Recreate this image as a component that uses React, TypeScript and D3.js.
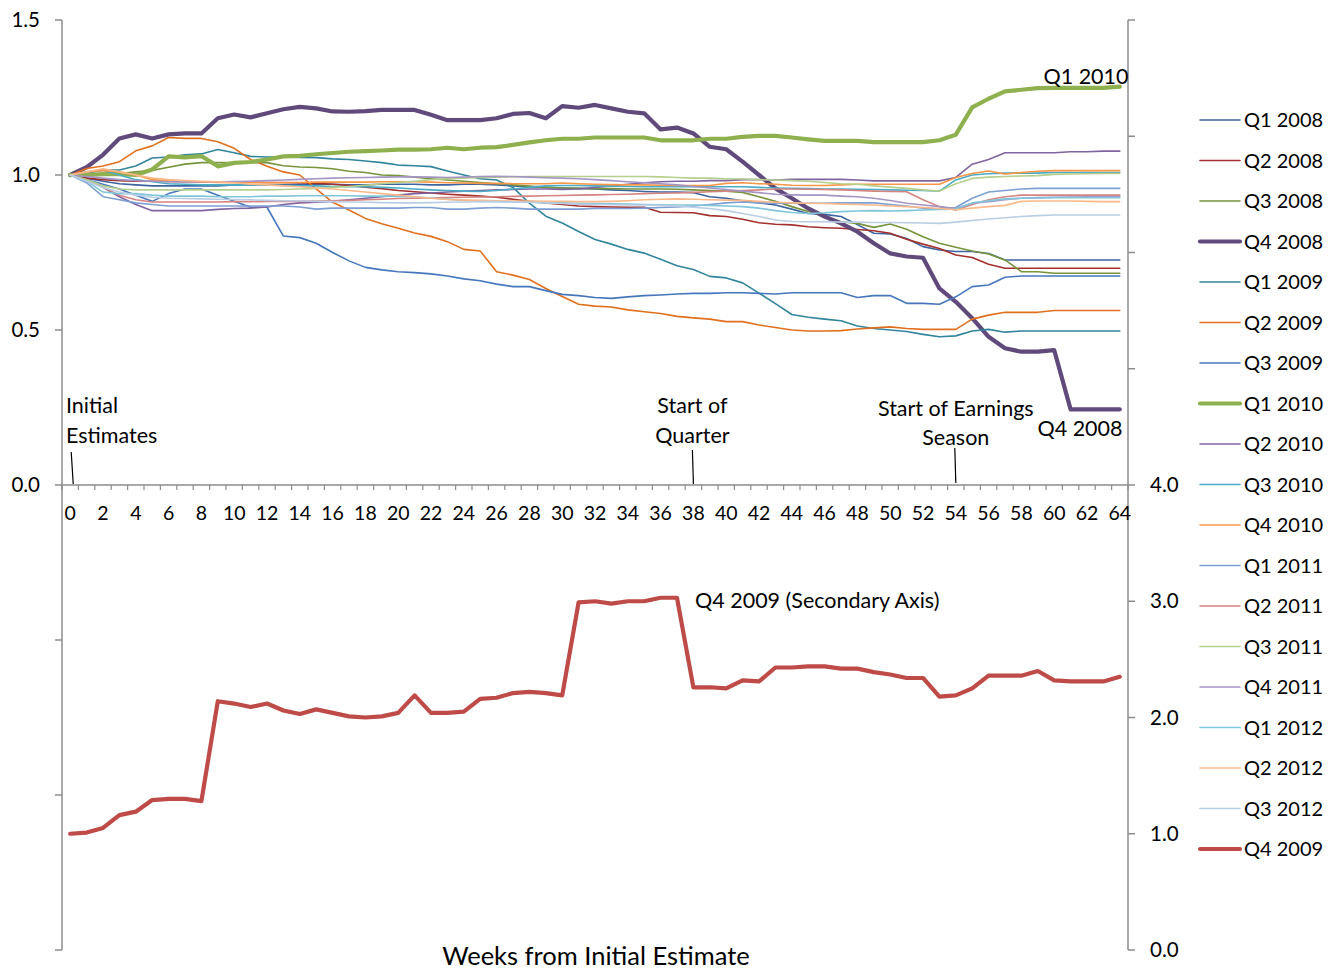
import React from "react";
import * as d3 from "d3";

// Weeks elapsed since the first consensus estimate (category axis)
const weeks: number[] = d3.range(0, 65);
const xTickLabels: number[] = d3.range(0, 65, 2);
const leftTicks: number[] = [-1.5, -1.0, -0.5, 0, 0.5, 1.0, 1.5];
const rightTicks: number[] = [0, 1, 2, 3, 4, 5, 6, 7, 8];

// Estimate relative to the initial estimate, primary axis
const q1_2008 = [1.000, 0.990, 0.980, 0.972, 0.968, 0.965, 0.965, 0.965, 0.965, 0.965,
  0.968, 0.968, 0.968, 0.968, 0.970, 0.970, 0.970, 0.968, 0.968, 0.970,
  0.970, 0.970, 0.968, 0.968, 0.970, 0.970, 0.968, 0.965, 0.962, 0.960,
  0.958, 0.957, 0.955, 0.952, 0.950, 0.947, 0.945, 0.945, 0.943, 0.930,
  0.925, 0.917, 0.910, 0.903, 0.890, 0.876, 0.873, 0.866, 0.840, 0.812,
  0.810, 0.795, 0.769, 0.758, 0.753, 0.753, 0.747, 0.726, 0.726, 0.726,
  0.726, 0.726, 0.726, 0.726, 0.726];
const q2_2008 = [1.000, 0.990, 0.985, 0.982, 0.980, 0.980, 0.979, 0.978, 0.978, 0.978,
  0.977, 0.977, 0.976, 0.976, 0.975, 0.973, 0.970, 0.966, 0.961, 0.956,
  0.950, 0.946, 0.942, 0.938, 0.935, 0.932, 0.928, 0.922, 0.915, 0.910,
  0.905, 0.900, 0.898, 0.897, 0.896, 0.896, 0.880, 0.879, 0.878, 0.869,
  0.866, 0.857, 0.846, 0.841, 0.839, 0.833, 0.830, 0.828, 0.824, 0.820,
  0.812, 0.793, 0.777, 0.763, 0.742, 0.734, 0.712, 0.699, 0.699, 0.699,
  0.699, 0.699, 0.699, 0.699, 0.699];
const q3_2008 = [1.000, 1.000, 1.000, 1.005, 1.010, 1.015, 1.025, 1.035, 1.040, 1.040,
  1.040, 1.040, 1.040, 1.030, 1.026, 1.024, 1.020, 1.012, 1.008, 1.000,
  0.998, 0.993, 0.988, 0.984, 0.980, 0.976, 0.972, 0.968, 0.964, 0.960,
  0.958, 0.957, 0.956, 0.956, 0.955, 0.955, 0.955, 0.954, 0.952, 0.950,
  0.948, 0.944, 0.930, 0.915, 0.898, 0.882, 0.868, 0.849, 0.844, 0.831,
  0.842, 0.825, 0.801, 0.780, 0.767, 0.755, 0.745, 0.726, 0.688, 0.688,
  0.683, 0.683, 0.683, 0.683, 0.683];
const q4_2008 = [1.000, 1.025, 1.065, 1.118, 1.131, 1.118, 1.131, 1.134, 1.134, 1.183,
  1.195, 1.186, 1.199, 1.212, 1.220, 1.215, 1.205, 1.204, 1.206, 1.210,
  1.210, 1.210, 1.194, 1.177, 1.177, 1.177, 1.183, 1.197, 1.200, 1.183,
  1.222, 1.217, 1.226, 1.215, 1.204, 1.199, 1.147, 1.153, 1.134, 1.091,
  1.083, 1.043, 1.000, 0.957, 0.925, 0.892, 0.866, 0.844, 0.817, 0.780,
  0.747, 0.737, 0.733, 0.634, 0.591, 0.538, 0.478, 0.441, 0.430, 0.430,
  0.435, 0.244, 0.244, 0.244, 0.244];
const q1_2009 = [1.000, 1.005, 1.016, 1.016, 1.029, 1.055, 1.058, 1.065, 1.068, 1.082,
  1.072, 1.060, 1.058, 1.058, 1.057, 1.056, 1.052, 1.050, 1.045, 1.040,
  1.032, 1.030, 1.027, 1.013, 1.000, 0.988, 0.984, 0.960, 0.909, 0.867,
  0.845, 0.818, 0.792, 0.777, 0.760, 0.748, 0.728, 0.707, 0.695, 0.673,
  0.668, 0.652, 0.619, 0.585, 0.550, 0.541, 0.535, 0.530, 0.513, 0.505,
  0.500, 0.495, 0.486, 0.478, 0.481, 0.497, 0.502, 0.493, 0.497, 0.497,
  0.497, 0.497, 0.497, 0.497, 0.497];
const q2_2009 = [1.000, 1.021, 1.029, 1.043, 1.078, 1.094, 1.121, 1.118, 1.118, 1.107,
  1.086, 1.050, 1.028, 1.010, 1.000, 0.955, 0.912, 0.887, 0.860, 0.843,
  0.828, 0.813, 0.802, 0.785, 0.760, 0.755, 0.688, 0.677, 0.663, 0.634,
  0.608, 0.583, 0.577, 0.574, 0.565, 0.559, 0.553, 0.544, 0.539, 0.535,
  0.527, 0.527, 0.516, 0.508, 0.500, 0.497, 0.497, 0.498, 0.503, 0.507,
  0.510, 0.505, 0.502, 0.502, 0.502, 0.535, 0.548, 0.557, 0.557, 0.557,
  0.563, 0.563, 0.563, 0.563, 0.563];
const q3_2009 = [1.000, 0.985, 0.970, 0.955, 0.935, 0.915, 0.940, 0.955, 0.955, 0.935,
  0.915, 0.896, 0.896, 0.803, 0.798, 0.780, 0.750, 0.723, 0.702, 0.694,
  0.688, 0.685, 0.681, 0.674, 0.665, 0.659, 0.648, 0.640, 0.640, 0.627,
  0.615, 0.611, 0.605, 0.602, 0.607, 0.611, 0.613, 0.616, 0.618, 0.618,
  0.620, 0.620, 0.618, 0.616, 0.620, 0.620, 0.620, 0.620, 0.605, 0.611,
  0.611, 0.586, 0.586, 0.583, 0.607, 0.640, 0.645, 0.670, 0.674, 0.674,
  0.674, 0.674, 0.674, 0.674, 0.674];
const q1_2010 = [1.000, 1.000, 1.003, 1.003, 1.000, 1.018, 1.060, 1.057, 1.061, 1.028,
  1.039, 1.042, 1.050, 1.060, 1.062, 1.067, 1.071, 1.075, 1.077, 1.079,
  1.082, 1.082, 1.083, 1.088, 1.083, 1.088, 1.090, 1.097, 1.105, 1.112,
  1.117, 1.117, 1.121, 1.121, 1.121, 1.121, 1.112, 1.112, 1.112, 1.117,
  1.117, 1.123, 1.126, 1.126, 1.121, 1.115, 1.110, 1.110, 1.110, 1.106,
  1.106, 1.106, 1.106, 1.112, 1.130, 1.218, 1.246, 1.270, 1.275, 1.280,
  1.281, 1.281, 1.281, 1.281, 1.285];
const q2_2010 = [1.000, 0.985, 0.960, 0.930, 0.905, 0.885, 0.885, 0.885, 0.885, 0.889,
  0.892, 0.893, 0.897, 0.905, 0.910, 0.912, 0.915, 0.920, 0.925, 0.930,
  0.935, 0.940, 0.942, 0.945, 0.948, 0.950, 0.952, 0.953, 0.955, 0.955,
  0.953, 0.955, 0.960, 0.965, 0.970, 0.975, 0.978, 0.980, 0.980, 0.982,
  0.982, 0.985, 0.985, 0.984, 0.986, 0.986, 0.986, 0.986, 0.984, 0.981,
  0.981, 0.981, 0.981, 0.981, 0.992, 1.035, 1.050, 1.072, 1.072, 1.072,
  1.072, 1.075, 1.075, 1.077, 1.077];
const q3_2010 = [1.000, 1.010, 1.015, 1.000, 0.985, 0.978, 0.972, 0.970, 0.968, 0.968,
  0.968, 0.968, 0.968, 0.966, 0.965, 0.965, 0.963, 0.962, 0.962, 0.960,
  0.958, 0.955, 0.952, 0.950, 0.948, 0.947, 0.950, 0.955, 0.960, 0.965,
  0.966, 0.966, 0.965, 0.964, 0.963, 0.962, 0.962, 0.962, 0.962, 0.962,
  0.962, 0.962, 0.960, 0.958, 0.957, 0.956, 0.955, 0.955, 0.954, 0.953,
  0.952, 0.951, 0.950, 0.948, 0.984, 1.000, 1.004, 1.006, 1.006, 1.006,
  1.008, 1.008, 1.008, 1.008, 1.008];
const q4_2010 = [1.000, 1.010, 1.015, 1.010, 1.000, 0.985, 0.982, 0.980, 0.978, 0.976,
  0.975, 0.975, 0.975, 0.975, 0.976, 0.977, 0.977, 0.977, 0.977, 0.978,
  0.978, 0.978, 0.977, 0.975, 0.974, 0.973, 0.973, 0.972, 0.972, 0.972,
  0.974, 0.972, 0.970, 0.969, 0.968, 0.968, 0.967, 0.966, 0.966, 0.966,
  0.973, 0.975, 0.972, 0.970, 0.967, 0.966, 0.966, 0.968, 0.970, 0.970,
  0.970, 0.970, 0.970, 0.970, 0.992, 1.005, 1.013, 1.003, 1.008, 1.012,
  1.014, 1.014, 1.014, 1.014, 1.014];
const q1_2011 = [1.000, 0.975, 0.930, 0.920, 0.910, 0.905, 0.900, 0.900, 0.900, 0.900,
  0.900, 0.900, 0.900, 0.900, 0.897, 0.890, 0.893, 0.893, 0.893, 0.893,
  0.893, 0.895, 0.895, 0.890, 0.890, 0.893, 0.895, 0.893, 0.890, 0.890,
  0.890, 0.890, 0.892, 0.892, 0.892, 0.893, 0.895, 0.897, 0.900, 0.905,
  0.910, 0.913, 0.910, 0.909, 0.909, 0.909, 0.909, 0.910, 0.910, 0.910,
  0.905, 0.900, 0.893, 0.890, 0.895, 0.925, 0.945, 0.950, 0.955, 0.957,
  0.957, 0.957, 0.957, 0.957, 0.957];
const q2_2011 = [1.000, 0.985, 0.960, 0.935, 0.920, 0.913, 0.913, 0.913, 0.913, 0.913,
  0.914, 0.914, 0.915, 0.915, 0.915, 0.916, 0.917, 0.918, 0.920, 0.922,
  0.924, 0.925, 0.926, 0.927, 0.928, 0.929, 0.930, 0.931, 0.932, 0.933,
  0.934, 0.935, 0.936, 0.937, 0.938, 0.940, 0.941, 0.942, 0.944, 0.946,
  0.948, 0.950, 0.952, 0.955, 0.955, 0.954, 0.953, 0.952, 0.950, 0.948,
  0.947, 0.946, 0.920, 0.898, 0.887, 0.905, 0.920, 0.930, 0.935, 0.935,
  0.935, 0.935, 0.935, 0.935, 0.935];
const q3_2011 = [1.000, 0.985, 0.965, 0.955, 0.952, 0.952, 0.952, 0.952, 0.952, 0.952,
  0.952, 0.952, 0.952, 0.953, 0.955, 0.957, 0.960, 0.963, 0.967, 0.972,
  0.976, 0.980, 0.985, 0.988, 0.990, 0.992, 0.993, 0.994, 0.995, 0.995,
  0.995, 0.995, 0.995, 0.995, 0.995, 0.995, 0.994, 0.992, 0.990, 0.990,
  0.988, 0.987, 0.985, 0.984, 0.982, 0.980, 0.976, 0.972, 0.970, 0.965,
  0.961, 0.957, 0.952, 0.948, 0.972, 0.989, 0.993, 0.995, 0.997, 0.998,
  1.002, 1.003, 1.004, 1.005, 1.005];
const q4_2011 = [1.000, 0.995, 0.990, 0.985, 0.982, 0.980, 0.978, 0.978, 0.978, 0.978,
  0.979, 0.980, 0.982, 0.984, 0.986, 0.988, 0.990, 0.991, 0.992, 0.993,
  0.994, 0.994, 0.993, 0.992, 0.993, 0.995, 0.996, 0.995, 0.993, 0.991,
  0.990, 0.988, 0.985, 0.982, 0.978, 0.975, 0.972, 0.968, 0.963, 0.958,
  0.953, 0.948, 0.943, 0.938, 0.936, 0.935, 0.935, 0.932, 0.930, 0.925,
  0.918, 0.909, 0.903, 0.898, 0.892, 0.909, 0.914, 0.920, 0.925, 0.927,
  0.928, 0.929, 0.930, 0.930, 0.930];
const q1_2012 = [1.000, 0.980, 0.945, 0.940, 0.940, 0.935, 0.932, 0.932, 0.932, 0.930,
  0.930, 0.930, 0.932, 0.932, 0.933, 0.933, 0.933, 0.933, 0.932, 0.932,
  0.931, 0.930, 0.926, 0.922, 0.918, 0.915, 0.914, 0.913, 0.912, 0.911,
  0.910, 0.909, 0.908, 0.907, 0.906, 0.905, 0.904, 0.903, 0.903, 0.902,
  0.900, 0.898, 0.893, 0.885, 0.879, 0.876, 0.878, 0.882, 0.884, 0.885,
  0.884, 0.885, 0.887, 0.889, 0.890, 0.910, 0.917, 0.923, 0.925, 0.926,
  0.927, 0.927, 0.927, 0.927, 0.927];
const q2_2012 = [1.000, 1.010, 1.020, 1.010, 1.000, 0.990, 0.985, 0.982, 0.980, 0.978,
  0.975, 0.970, 0.968, 0.965, 0.962, 0.958, 0.955, 0.950, 0.945, 0.940,
  0.935, 0.930, 0.925, 0.921, 0.919, 0.918, 0.917, 0.916, 0.916, 0.915,
  0.915, 0.914, 0.914, 0.915, 0.917, 0.920, 0.922, 0.923, 0.922, 0.920,
  0.919, 0.918, 0.915, 0.912, 0.910, 0.909, 0.908, 0.906, 0.905, 0.903,
  0.900, 0.898, 0.895, 0.892, 0.888, 0.893, 0.898, 0.902, 0.915, 0.916,
  0.916, 0.916, 0.915, 0.914, 0.914];
const q3_2012 = [1.000, 0.980, 0.960, 0.945, 0.935, 0.928, 0.925, 0.924, 0.923, 0.922,
  0.921, 0.920, 0.918, 0.917, 0.916, 0.915, 0.914, 0.913, 0.912, 0.911,
  0.910, 0.910, 0.911, 0.912, 0.913, 0.914, 0.914, 0.913, 0.912, 0.910,
  0.908, 0.906, 0.905, 0.904, 0.903, 0.903, 0.902, 0.900, 0.896, 0.892,
  0.885, 0.876, 0.866, 0.855, 0.850, 0.849, 0.849, 0.848, 0.848, 0.847,
  0.847, 0.846, 0.845, 0.844, 0.848, 0.853, 0.858, 0.862, 0.866, 0.869,
  0.871, 0.871, 0.871, 0.871, 0.871];

// Q4 2009, plotted against the secondary axis
const q4_2009 = [1.00, 1.01, 1.05, 1.16, 1.19, 1.29, 1.30, 1.30, 1.28, 2.14,
  2.12, 2.09, 2.12, 2.06, 2.03, 2.07, 2.04, 2.01, 2.00, 2.01,
  2.04, 2.19, 2.04, 2.04, 2.05, 2.16, 2.17, 2.21, 2.22, 2.21,
  2.19, 2.99, 3.00, 2.98, 3.00, 3.00, 3.03, 3.03, 2.26, 2.26,
  2.25, 2.32, 2.31, 2.43, 2.43, 2.44, 2.44, 2.42, 2.42, 2.39,
  2.37, 2.34, 2.34, 2.18, 2.19, 2.25, 2.36, 2.36, 2.36, 2.40,
  2.32, 2.31, 2.31, 2.31, 2.35];

type Series = { name: string; values: number[]; color: string; width: number; secondary?: boolean };

const series: Series[] = [
  { name: "Q1 2008", values: q1_2008, color: "#3B64A0", width: 1.6 },
  { name: "Q2 2008", values: q2_2008, color: "#A3302D", width: 1.6 },
  { name: "Q3 2008", values: q3_2008, color: "#77933C", width: 1.6 },
  { name: "Q4 2008", values: q4_2008, color: "#604A7B", width: 4.2 },
  { name: "Q1 2009", values: q1_2009, color: "#31859C", width: 1.6 },
  { name: "Q2 2009", values: q2_2009, color: "#E0701E", width: 1.6 },
  { name: "Q3 2009", values: q3_2009, color: "#4677BE", width: 1.6 },
  { name: "Q1 2010", values: q1_2010, color: "#8EB04E", width: 4.2 },
  { name: "Q2 2010", values: q2_2010, color: "#8064A2", width: 1.6 },
  { name: "Q3 2010", values: q3_2010, color: "#4BACC6", width: 1.6 },
  { name: "Q4 2010", values: q4_2010, color: "#F79646", width: 1.6 },
  { name: "Q1 2011", values: q1_2011, color: "#7D9FD3", width: 1.6 },
  { name: "Q2 2011", values: q2_2011, color: "#D58481", width: 1.6 },
  { name: "Q3 2011", values: q3_2011, color: "#B5D08C", width: 1.6 },
  { name: "Q4 2011", values: q4_2011, color: "#A595C4", width: 1.6 },
  { name: "Q1 2012", values: q1_2012, color: "#80C6DA", width: 1.6 },
  { name: "Q2 2012", values: q2_2012, color: "#F9B98A", width: 1.6 },
  { name: "Q3 2012", values: q3_2012, color: "#B9CDE5", width: 1.6 },
  { name: "Q4 2009", values: q4_2009, color: "#BE4B48", width: 4.2, secondary: true },
];

const FONT = "Lato, 'Open Sans', sans-serif";
const AXIS = "#8C8C8C";

export default function App() {
  const left = 62;
  const right = 1128;
  const top = 20;
  const bottom = 950;

  const x = d3.scaleBand<number>().domain(weeks).range([left, right]).padding(0);
  const cx = (w: number) => (x(w) as number) + x.bandwidth() / 2;
  const yL = d3.scaleLinear().domain([-1.5, 1.5]).range([bottom, top]);
  const yR = d3.scaleLinear().domain([0, 8]).range([bottom, top]);
  const y0 = yL(0);

  const lineFor = (s: Series) =>
    d3
      .line<number>()
      .x((_, i) => cx(weeks[i]))
      .y((d) => (s.secondary ? yR(d) : yL(d)))(s.values) as string;

  const legendX = 1200;
  const legendY0 = 120;
  const legendStep = 40.5;

  const boundaries = d3.range(0, weeks.length + 1);

  return (
    <svg
      width={1331}
      height={969}
      style={{ position: "absolute", left: 0, top: 0, background: "#fff" }}
      fontFamily={FONT}
    >
      {/* series */}
      <g fill="none" strokeLinejoin="round" strokeLinecap="round">
        {series.map((s) => (
          <path key={s.name} d={lineFor(s)} stroke={s.color} strokeWidth={s.width} />
        ))}
      </g>

      {/* left axis */}
      <line x1={left} x2={left} y1={top} y2={bottom} stroke={AXIS} strokeWidth={1.5} />
      {leftTicks.map((t) => (
        <g key={"l" + t}>
          <line x1={left - 7} x2={left} y1={yL(t)} y2={yL(t)} stroke={AXIS} strokeWidth={1.5} />
          {t >= 0 && (
            <text x={40} y={yL(t)} dy="0.35em" textAnchor="end" fontSize={20.5} fill="#000">
              {d3.format(".1f")(t)}
            </text>
          )}
        </g>
      ))}

      {/* right (secondary) axis */}
      <line x1={right} x2={right} y1={top} y2={bottom} stroke={AXIS} strokeWidth={1.5} />
      {rightTicks.map((t) => (
        <g key={"r" + t}>
          <line x1={right} x2={right + 7} y1={yR(t)} y2={yR(t)} stroke={AXIS} strokeWidth={1.5} />
          {t <= 4 && (
            <text x={1150} y={yR(t)} dy="0.35em" textAnchor="start" fontSize={20.5} fill="#000">
              {d3.format(".1f")(t)}
            </text>
          )}
        </g>
      ))}

      {/* category axis at zero */}
      <line x1={left} x2={right} y1={y0} y2={y0} stroke={AXIS} strokeWidth={1.5} />
      {boundaries.map((b) => (
        <line
          key={"b" + b}
          x1={left + b * x.bandwidth()}
          x2={left + b * x.bandwidth()}
          y1={y0}
          y2={y0 + 5}
          stroke={AXIS}
          strokeWidth={1.2}
        />
      ))}
      {xTickLabels.map((w) => (
        <text key={"x" + w} x={cx(w)} y={y0 + 28} dy="0.35em" textAnchor="middle" fontSize={19.5} fill="#000">
          {w}
        </text>
      ))}

      <text x={596} y={956} dy="0.35em" textAnchor="middle" fontSize={25.5} fill="#000">
        Weeks from Initial Estimate
      </text>

      {/* annotations */}
      <g fontSize={21.5} fill="#000">
        <text x={66} y={405} dy="0.35em">Initial</text>
        <text x={66} y={435} dy="0.35em">Estimates</text>
        <line x1={cx(0) + 1} x2={cx(0) + 3} y1={452} y2={484} stroke="#000" strokeWidth={1.2} />

        <text x={cx(38) - 1} y={405} dy="0.35em" textAnchor="middle">Start of</text>
        <text x={cx(38) - 1} y={435} dy="0.35em" textAnchor="middle">Quarter</text>
        <line x1={cx(38) - 1} x2={cx(38)} y1={450} y2={484} stroke="#000" strokeWidth={1.2} />

        <text x={cx(54)} y={408} dy="0.35em" textAnchor="middle">Start of Earnings</text>
        <text x={cx(54)} y={437} dy="0.35em" textAnchor="middle">Season</text>
        <line x1={cx(54) - 1} x2={cx(54)} y1={448} y2={483} stroke="#000" strokeWidth={1.2} />

        <text x={1080} y={428} dy="0.35em" textAnchor="middle">Q4 2008</text>
        <text x={1086} y={76} dy="0.35em" textAnchor="middle">Q1 2010</text>
        <text x={695} y={600} dy="0.35em" textAnchor="start">Q4 2009 (Secondary Axis)</text>
      </g>

      {/* legend */}
      <g>
        {series.map((s, i) => {
          const ly = legendY0 + i * legendStep;
          return (
            <g key={"lg" + s.name}>
              <line
                x1={legendX}
                x2={legendX + 40}
                y1={ly}
                y2={ly}
                stroke={s.color}
                strokeWidth={s.width}
                strokeLinecap="round"
              />
              <text x={legendX + 44} y={ly} dy="0.35em" fontSize={20} fill="#000">
                {s.name}
              </text>
            </g>
          );
        })}
      </g>
    </svg>
  );
}
